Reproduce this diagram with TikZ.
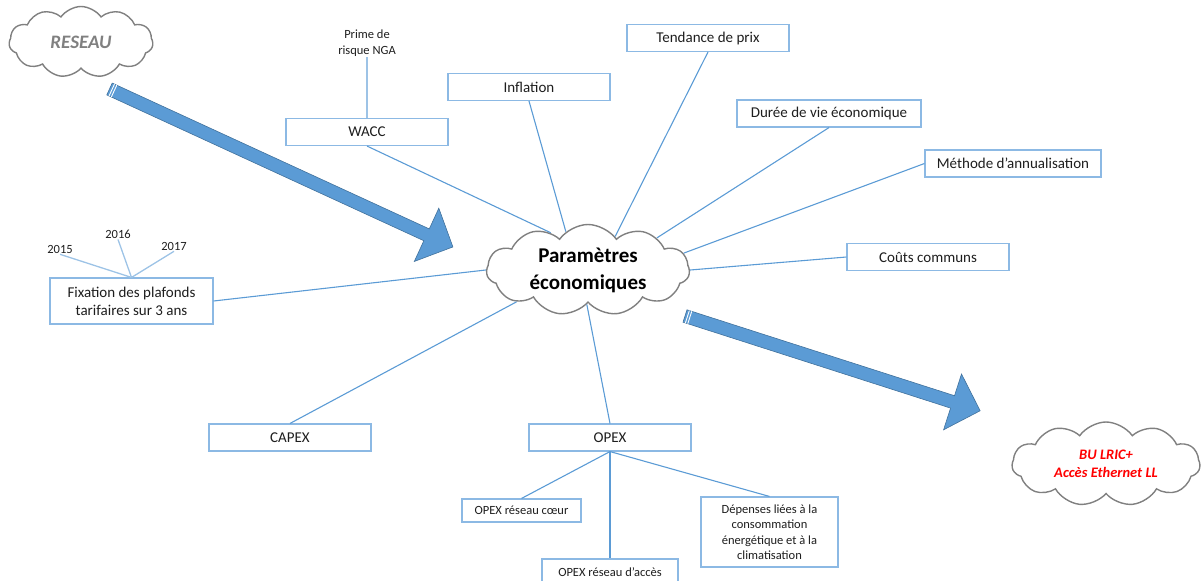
\documentclass[tikz,border=0pt]{standalone}
\usepackage{fontspec}
\setmainfont{Carlito}
\usetikzlibrary{shapes.symbols}
\definecolor{linec}{RGB}{91,155,213}
\definecolor{lightlinec}{RGB}{157,195,230}
\definecolor{boxc}{RGB}{140,185,228}
\definecolor{cloudc}{RGB}{128,128,128}
\definecolor{arrowf}{RGB}{91,155,213}
\definecolor{arrowd}{RGB}{65,113,156}
\definecolor{txt}{RGB}{30,30,30}
\begin{document}
\begin{tikzpicture}[x=1pt,y=-1pt,
  box/.style={draw=boxc, line width=1.1pt, fill=white, minimum height=27pt, inner sep=2pt,
    font=\fontsize{15}{18}\selectfont, align=center, text=txt},
  smallbox/.style={box, font=\fontsize{12.5}{15.5}\selectfont},
  lbl/.style={inner sep=1pt, font=\fontsize{12.5}{15.5}\selectfont, align=center, text=txt},
  conn/.style={draw=linec, line width=1.1pt},
  lightconn/.style={draw=lightlinec, line width=1.3pt},
  cloudnode/.style={cloud, cloud puffs=11, cloud puff arc=110, cloud ignores aspect,
    draw=cloudc, line width=1.4pt, fill=white, inner sep=-12pt, align=center},
  bigarrow/.style={fill=arrowf, draw=arrowd, line width=0.6pt, line join=miter},
  stripe/.style={draw=white, line width=0.9pt}
]
\useasboundingbox (0,0) rectangle (1203,581);

% big arrows
\begin{scope}[shift={(109.5,89)}, rotate=-24.7]
  \path[bigarrow] (0,-6.5) -- (349,-6.5) -- (349,-29.3) -- (378,0) -- (349,29.3) -- (349,6.5) -- (0,6.5) -- cycle;
  \draw[stripe] (2.5,-6.5) -- (2.5,6.5);
  \draw[stripe] (5,-6.5) -- (5,6.5);
\end{scope}
\begin{scope}[shift={(685,316)}, rotate=-17.8]
  \path[bigarrow] (0,-6.5) -- (281,-6.5) -- (281,-29.3) -- (310,0) -- (281,29.3) -- (281,6.5) -- (0,6.5) -- cycle;
  \draw[stripe] (2.5,-6.5) -- (2.5,6.5);
  \draw[stripe] (5,-6.5) -- (5,6.5);
\end{scope}

% clouds
\node[cloudnode, minimum width=203pt, minimum height=91pt, text=black,
  font=\bfseries\fontsize{21}{27}\selectfont] (param) at (588,270) {Paramètres\\économiques};
\node[cloudnode, minimum width=144pt, minimum height=71pt, text=gray,
  font=\bfseries\itshape\fontsize{19}{22}\selectfont] (reseau) at (81,42) {RESEAU};
\node[cloudnode, minimum width=188pt, minimum height=84pt, text=red,
  font=\bfseries\itshape\fontsize{14.5}{18}\selectfont] (bu) at (1106,464) {BU LRIC+\\Accès Ethernet LL};

% boxes
\node[box, minimum width=162pt] (wacc) at (367,132) {WACC};
\node[lbl] (prime) at (367,43) {Prime de\\risque NGA};
\node[box, minimum width=162pt] (infl) at (529,87) {Inflation};
\node[box, minimum width=162pt] (tend) at (708,38) {Tendance de prix};
\node[box, minimum width=184pt] (duree) at (829,113.5) {Durée de vie économique};
\node[box, minimum width=176pt] (meth) at (1013,163.5) {Méthode d’annualisation};
\node[box, minimum width=162pt] (couts) at (928,257) {Coûts communs};
\node[box, minimum width=163pt, minimum height=46pt] (fix) at (131.5,301) {Fixation des plafonds\\tarifaires sur 3 ans};
\node[lbl] (y2015) at (60,249) {2015};
\node[lbl] (y2016) at (118,234) {2016};
\node[lbl] (y2017) at (174,246) {2017};
\node[box, minimum width=162pt] (capex) at (290,437.5) {CAPEX};
\node[box, minimum width=162pt] (opex) at (610,437.5) {OPEX};
\node[smallbox, minimum width=119pt, minimum height=23pt] (coeur) at (521.5,510.5) {OPEX réseau cœur};
\node[smallbox, minimum width=136pt, minimum height=27pt] (acces) at (610,572.5) {OPEX réseau d’accès};
\node[smallbox, minimum width=137pt, minimum height=70pt] (dep) at (769.5,532) {Dépenses liées à la\\consommation\\énergétique et à la\\climatisation};

% connectors
\draw[lightconn] (prime.south) -- (wacc.north);
\draw[lightconn] (y2015.south) -- (fix.north);
\draw[lightconn] (y2016.south) -- (fix.north);
\draw[lightconn] (y2017.south) -- (fix.north);
\draw[conn] (wacc.south) -- (param.135);
\draw[conn] (infl.south) -- (param.120);
\draw[conn] (tend.south) -- (param.51);
\draw[conn] (duree.south) -- (param.25);
\draw[conn] (meth.west) -- (param.10);
\draw[conn] (couts.west) -- (param.0);
\draw[conn] (fix.east) -- (param.180);
\draw[conn] (capex.north) -- (param.204);
\draw[conn] (opex.north) -- (param.268);
\draw[conn] (opex.south) -- (coeur.north);
\draw[conn] (opex.south) -- (acces.north);
\draw[conn] (opex.south) -- (dep.north);
\end{tikzpicture}
\end{document}
